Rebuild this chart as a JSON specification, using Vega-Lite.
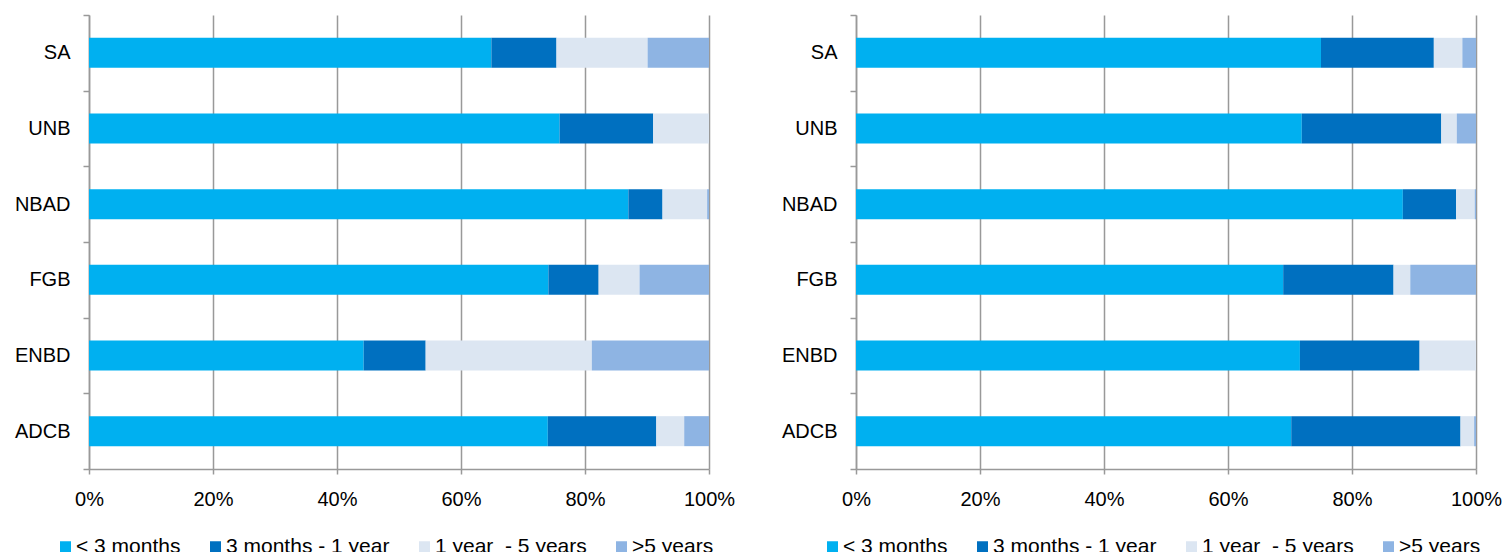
{
  "$schema": "https://vega.github.io/schema/vega-lite/v6.json",
  "autosize": {"type": "pad"},
  "padding": {"left": 14, "top": 5, "right": 0, "bottom": 0},
  "background": "#ffffff",
  "config": {
    "view": {"stroke": null},
    "font": "Liberation Sans",
    "axis": {
      "labelFont": "Liberation Sans",
      "labelFontSize": 20,
      "labelColor": "#000000",
      "domainColor": "#999999",
      "domainWidth": 1.5,
      "tickColor": "#999999",
      "tickWidth": 1.5,
      "gridColor": "#999999",
      "gridWidth": 1.5,
      "title": null
    },
    "legend": {
      "labelFont": "Liberation Sans",
      "labelFontSize": 21,
      "labelColor": "#000000",
      "labelLimit": 400
    },
    "concat": {"spacing": 147}
  },
  "datasets": {
    "left": [
      {"bank": "SA", "bucket": "< 3 months", "k": 0, "v": 64.9},
      {"bank": "SA", "bucket": "3 months - 1 year", "k": 1, "v": 10.5},
      {"bank": "SA", "bucket": "1 year\u00a0 - 5 years", "k": 2, "v": 14.7},
      {"bank": "SA", "bucket": ">5 years", "k": 3, "v": 9.9},
      {"bank": "UNB", "bucket": "< 3 months", "k": 0, "v": 75.9},
      {"bank": "UNB", "bucket": "3 months - 1 year", "k": 1, "v": 15.1},
      {"bank": "UNB", "bucket": "1 year\u00a0 - 5 years", "k": 2, "v": 9.0},
      {"bank": "UNB", "bucket": ">5 years", "k": 3, "v": 0},
      {"bank": "NBAD", "bucket": "< 3 months", "k": 0, "v": 87.0},
      {"bank": "NBAD", "bucket": "3 months - 1 year", "k": 1, "v": 5.5},
      {"bank": "NBAD", "bucket": "1 year\u00a0 - 5 years", "k": 2, "v": 7.2},
      {"bank": "NBAD", "bucket": ">5 years", "k": 3, "v": 0.3},
      {"bank": "FGB", "bucket": "< 3 months", "k": 0, "v": 74.1},
      {"bank": "FGB", "bucket": "3 months - 1 year", "k": 1, "v": 8.1},
      {"bank": "FGB", "bucket": "1 year\u00a0 - 5 years", "k": 2, "v": 6.6},
      {"bank": "FGB", "bucket": ">5 years", "k": 3, "v": 11.2},
      {"bank": "ENBD", "bucket": "< 3 months", "k": 0, "v": 44.3},
      {"bank": "ENBD", "bucket": "3 months - 1 year", "k": 1, "v": 10.0},
      {"bank": "ENBD", "bucket": "1 year\u00a0 - 5 years", "k": 2, "v": 26.8},
      {"bank": "ENBD", "bucket": ">5 years", "k": 3, "v": 18.9},
      {"bank": "ADCB", "bucket": "< 3 months", "k": 0, "v": 74.0},
      {"bank": "ADCB", "bucket": "3 months - 1 year", "k": 1, "v": 17.5},
      {"bank": "ADCB", "bucket": "1 year\u00a0 - 5 years", "k": 2, "v": 4.5},
      {"bank": "ADCB", "bucket": ">5 years", "k": 3, "v": 4.0}
    ],
    "right": [
      {"bank": "SA", "bucket": "< 3 months", "k": 0, "v": 75.0},
      {"bank": "SA", "bucket": "3 months - 1 year", "k": 1, "v": 18.2},
      {"bank": "SA", "bucket": "1 year\u00a0 - 5 years", "k": 2, "v": 4.6},
      {"bank": "SA", "bucket": ">5 years", "k": 3, "v": 2.2},
      {"bank": "UNB", "bucket": "< 3 months", "k": 0, "v": 71.9},
      {"bank": "UNB", "bucket": "3 months - 1 year", "k": 1, "v": 22.5},
      {"bank": "UNB", "bucket": "1 year\u00a0 - 5 years", "k": 2, "v": 2.5},
      {"bank": "UNB", "bucket": ">5 years", "k": 3, "v": 3.1},
      {"bank": "NBAD", "bucket": "< 3 months", "k": 0, "v": 88.2},
      {"bank": "NBAD", "bucket": "3 months - 1 year", "k": 1, "v": 8.6},
      {"bank": "NBAD", "bucket": "1 year\u00a0 - 5 years", "k": 2, "v": 3.0},
      {"bank": "NBAD", "bucket": ">5 years", "k": 3, "v": 0.2},
      {"bank": "FGB", "bucket": "< 3 months", "k": 0, "v": 68.9},
      {"bank": "FGB", "bucket": "3 months - 1 year", "k": 1, "v": 17.8},
      {"bank": "FGB", "bucket": "1 year\u00a0 - 5 years", "k": 2, "v": 2.7},
      {"bank": "FGB", "bucket": ">5 years", "k": 3, "v": 10.6},
      {"bank": "ENBD", "bucket": "< 3 months", "k": 0, "v": 71.6},
      {"bank": "ENBD", "bucket": "3 months - 1 year", "k": 1, "v": 19.3},
      {"bank": "ENBD", "bucket": "1 year\u00a0 - 5 years", "k": 2, "v": 9.1},
      {"bank": "ENBD", "bucket": ">5 years", "k": 3, "v": 0},
      {"bank": "ADCB", "bucket": "< 3 months", "k": 0, "v": 70.2},
      {"bank": "ADCB", "bucket": "3 months - 1 year", "k": 1, "v": 27.3},
      {"bank": "ADCB", "bucket": "1 year\u00a0 - 5 years", "k": 2, "v": 2.2},
      {"bank": "ADCB", "bucket": ">5 years", "k": 3, "v": 0.3}
    ]
  },
  "bounds": "flush",
  "resolve": {"scale": {"color": "independent"}, "legend": {"color": "independent"}},
  "hconcat": [
    {
      "data": {"name": "left"},
      "width": 620,
      "height": 454,
      "mark": {"type": "bar", "height": 30},
      "encoding": {
        "y": {
          "field": "bank", "type": "nominal",
          "sort": ["SA", "UNB", "NBAD", "FGB", "ENBD", "ADCB"],
          "scale": {"paddingInner": 0, "paddingOuter": 0},
          "axis": {"tickBand": "extent", "tickSize": 6, "labelPadding": 13, "grid": false}
        },
        "x": {
          "field": "v", "type": "quantitative", "stack": "zero",
          "scale": {"domain": [0, 100], "nice": false},
          "axis": {"values": [0, 20, 40, 60, 80, 100], "labelExpr": "datum.value + '%'", "labelFlush": false, "tickSize": 5, "labelPadding": 15, "grid": true}
        },
        "order": {"field": "k", "type": "quantitative", "sort": "ascending"},
        "color": {
          "field": "bucket", "type": "nominal",
          "scale": {"domain": ["< 3 months", "3 months - 1 year", "1 year\u00a0 - 5 years", ">5 years"], "range": ["#00B0F0", "#0070C0", "#DCE6F2", "#8EB4E3"]},
          "legend": {"title": null, "orient": "none", "direction": "horizontal", "legendX": -34, "legendY": 521, "symbolType": "square", "symbolSize": 121, "symbolStrokeWidth": 0, "labelOffset": 0, "columnPadding": 24, "labelLimit": 400}
        }
      }
    },
    {
      "data": {"name": "right"},
      "width": 620,
      "height": 454,
      "mark": {"type": "bar", "height": 30},
      "encoding": {
        "y": {
          "field": "bank", "type": "nominal",
          "sort": ["SA", "UNB", "NBAD", "FGB", "ENBD", "ADCB"],
          "scale": {"paddingInner": 0, "paddingOuter": 0},
          "axis": {"tickBand": "extent", "tickSize": 6, "labelPadding": 13, "grid": false}
        },
        "x": {
          "field": "v", "type": "quantitative", "stack": "zero",
          "scale": {"domain": [0, 100], "nice": false},
          "axis": {"values": [0, 20, 40, 60, 80, 100], "labelExpr": "datum.value + '%'", "labelFlush": false, "tickSize": 5, "labelPadding": 15, "grid": true}
        },
        "order": {"field": "k", "type": "quantitative", "sort": "ascending"},
        "color": {
          "field": "bucket", "type": "nominal",
          "scale": {"domain": ["< 3 months", "3 months - 1 year", "1 year\u00a0 - 5 years", ">5 years"], "range": ["#00B0F0", "#0070C0", "#DCE6F2", "#8EB4E3"]},
          "legend": {"title": null, "orient": "none", "direction": "horizontal", "legendX": -34, "legendY": 521, "symbolType": "square", "symbolSize": 121, "symbolStrokeWidth": 0, "labelOffset": 0, "columnPadding": 24, "labelLimit": 400}
        }
      }
    }
  ]
}
